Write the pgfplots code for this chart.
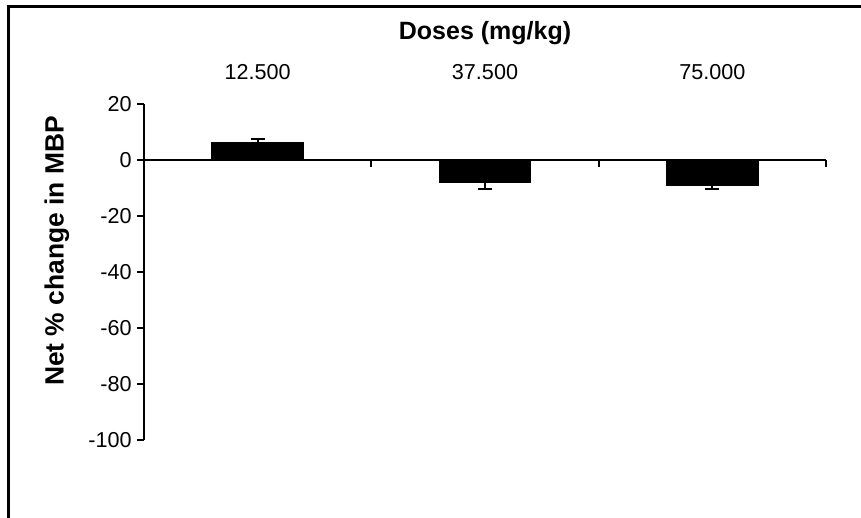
\documentclass[border=0pt]{standalone}
\usepackage{pgfplots}
\pgfplotsset{compat=1.18}
\usepackage{fontspec}
\setmainfont{Liberation Sans}

\begin{document}
\begin{tikzpicture}
\useasboundingbox (0pt,0pt) rectangle (430.5pt,259pt);
% chart frame (left and top edges)
\draw[line width=1.25pt] (4.25pt,0pt) -- (4.25pt,255.75pt) -- (430.5pt,255.75pt);
\begin{axis}[
  at={(72pt,39pt)}, anchor=south west,
  scale only axis, width=341pt, height=168pt,
  xmin=0.5, xmax=3.5, ymin=-100, ymax=20,
  axis y line=left, axis x line=middle,
  axis line style={-, line width=0.9pt},
  clip=false,
  ytick={-100,-80,...,20},
  xtick={1.5,2.5,3.5}, xticklabels={},
  tick align=center, major tick length=3.3pt,
  tick style={line width=0.9pt, black},
  xtick style={yshift=-1.65pt},
  ytick style={xshift=-1.65pt},
  yticklabel style={font=\fontsize{10.8}{13}\selectfont, xshift=-1pt},
  /pgf/number format/assume math mode=true,
]
% mean net change per dose, with one-sided error bars
\addplot[ybar, bar width=45.8pt, bar shift=0pt, fill=black, draw=black,
  error bars/.cd, y dir=plus, y explicit,
  error bar style={line width=1pt, black},
  error mark options={rotate=90, black, mark size=3.5pt, line width=1pt}]
  coordinates {(1,6.4) +- (0,1.0)};
\addplot[ybar, bar width=45.8pt, bar shift=0pt, fill=black, draw=black,
  error bars/.cd, y dir=minus, y explicit,
  error bar style={line width=1pt, black},
  error mark options={rotate=90, black, mark size=3.5pt, line width=1pt}]
  coordinates {(2,-8.1) +- (0,2.1) (3,-9.0) +- (0,1.5)};
% dose labels above the plot
\node[anchor=base, font=\fontsize{10.8}{13}\selectfont, yshift=12pt] at (axis cs:1,20) {12.500};
\node[anchor=base, font=\fontsize{10.8}{13}\selectfont, yshift=12pt] at (axis cs:2,20) {37.500};
\node[anchor=base, font=\fontsize{10.8}{13}\selectfont, yshift=12pt] at (axis cs:3,20) {75.000};
\node[anchor=base, font=\bfseries\fontsize{12.5}{15}\selectfont, yshift=32.2pt] at (axis cs:2,20) {Doses (mg/kg)};
\end{axis}
\node[rotate=90, anchor=base, font=\bfseries\fontsize{13.2}{16}\selectfont] at (31.8pt,133.5pt) {Net \% change in MBP};
\end{tikzpicture}
\end{document}
